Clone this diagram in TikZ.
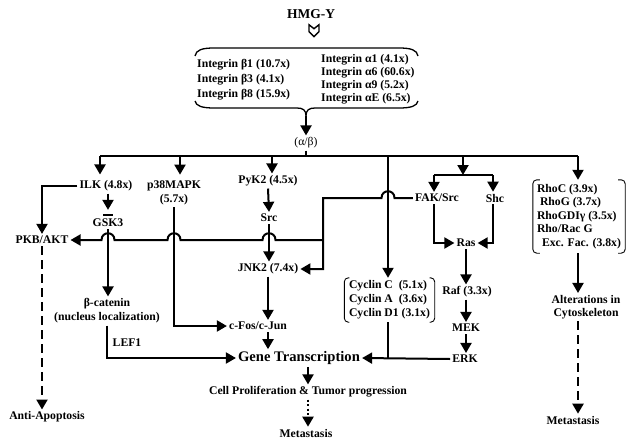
\documentclass[tikz,border=0pt]{standalone}
\usepackage{fontspec}
\setmainfont{Liberation Serif}
\usetikzlibrary{arrows.meta,calc}

\begin{document}
\begin{tikzpicture}[
  x=1pt, y=-1pt,
  every node/.style = {font=\bfseries\fontsize{11.7}{13}\selectfont, inner sep=2pt},
  ttl/.style    = {font=\bfseries\fontsize{13.5}{15}\selectfont},
  big/.style    = {font=\bfseries\fontsize{14.6}{16}\selectfont},
  two/.style    = {align=center, font=\bfseries\fontsize{11.7}{14}\selectfont},
  grp/.style    = {align=left, inner sep=0pt},
  ln/.style     = {line width=2pt},
  arr/.style    = {-{Triangle[length=10pt,width=11pt]}, line width=2pt},
  dsh/.style    = {arr, dash pattern=on 9pt off 5pt, line width=2.2pt},
  dts/.style    = {arr, dash pattern=on 2pt off 2.5pt, line width=2.2pt},
  brc/.style    = {line width=1.3pt},
  brk/.style    = {line width=0.9pt, rounded corners=4pt},
  chev/.style   = {line width=1.4pt, fill=white, line join=miter},
]
\useasboundingbox (0,0) rectangle (628,441);

% ── Receptor layer ───────────────────────────────────────────
\node[ttl] (hmg) at (311,14) {HMG-Y};
\draw[chev, shift={(hmg.south)}] (-2,4) -- (3,8) -- (8,4) -- (8,11) -- (3,16) -- (-2,11) -- cycle;

\node[grp, anchor=west, font=\bfseries\fontsize{11.7}{15}\selectfont] (intb) at (197,80)
  {Integrin β1 (10.7x)\\Integrin β3 (4.1x)\\Integrin β8 (15.9x)};
\node[grp, anchor=west, font=\bfseries\fontsize{11.7}{13}\selectfont] (inta) at (321,79.5)
  {Integrin α1 (4.1x)\\Integrin α6 (60.6x)\\Integrin α9 (5.2x)\\Integrin αE (6.5x)};

\draw[brc] (195,56) .. controls (196,50) and (202,48) .. (214,48) -- (399,48)
  .. controls (411,48) and (417,50) .. (418,56);
\draw[brc] (195,101) .. controls (196,106) and (202,108) .. (214,108) -- (297,108)
  .. controls (303,108) and (306,110) .. (306,116) coordinate (tip)
  .. controls (306,110) and (309,108) .. (315,108) -- (399,108)
  .. controls (411,108) and (417,106) .. (418,101);

\node[font=\fontsize{11.7}{13}\selectfont] (ab) at (306,143) {(α/β)};
\draw[arr] (tip) -- (ab.north);

% ── Distribution bus ─────────────────────────────────────────
\coordinate (b1) at (100,156);
\coordinate (b2) at (180,156);
\coordinate (b3) at (272,156);
\coordinate (b4) at (388,156);
\coordinate (b5) at (463,156);
\coordinate (b6) at (578,156);
\draw[ln] (b1) -- (b6);
\draw[ln] (ab.south) -- (ab.south |- b1);

% ── Left branch nodes ────────────────────────────────────────
\node (ilk)  at (106,186) {ILK (4.8x)};
\node[two] (p38) at (174,193) {p38MAPK\\(5.7x)};
\node (pyk)  at (268,181) {PyK2 (4.5x)};
\node (src)  at (269,218) {Src};
\node (gsk)  at (108,223) {GSK3};
\node (pkb)  at (42,240)  {PKB/AKT};
\node (jnk)  at (268,269) {JNK2 (7.4x)};
\node[two] (bcat) at (107,311) {β-catenin\\(nucleus localization)};
\node (lef)  at (127,343) {LEF1};
\node (fos)  at (258,326) {c-Fos/c-Jun};
\node[big] (gene) at (299,358) {Gene Transcription};
\node (cell) at (308,392) {Cell Proliferation \& Tumor progression};
\node (meta) at (306,433) {Metastasis};
\node (anti) at (47,417)  {Anti-Apoptosis};

% ── Right branch nodes ───────────────────────────────────────
\node (fak)  at (437,198) {FAK/Src};
\node (shc)  at (495,198) {Shc};
\node (ras)  at (466,243) {Ras};
\node (raf)  at (467,292) {Raf (3.3x)};
\node (mek)  at (466,328) {MEK};
\node (erk)  at (465,359) {ERK};
\node[grp, minimum width=90pt, minimum height=44pt,
      font=\bfseries\fontsize{11.7}{14}\selectfont] (cyc) at (389.5,300)
  {Cyclin C\enspace(5.1x)\\Cyclin A\enspace(3.6x)\\Cyclin D1 (3.1x)};
\node[grp, minimum width=92pt, minimum height=73pt,
      font=\bfseries\fontsize{11.7}{13.5}\selectfont] (rho) at (579,216.5)
  {RhoC (3.9x)\\\hspace*{3pt}RhoG (3.7x)\\RhoGDIγ (3.5x)\\Rho/Rac G\\\hspace*{5pt}Exc. Fac. (3.8x)};
\node[two, font=\bfseries\fontsize{11.7}{13}\selectfont] (alt) at (586,307) {Alterations in\\Cytoskeleton};
\node (metaR) at (573,420) {Metastasis};

% brackets round the two lists
\draw[brk] ([xshift=5pt]cyc.north west) -- (cyc.north west) -- (cyc.south west) -- ([xshift=5pt]cyc.south west);
\draw[brk] ([xshift=-5pt]cyc.north east) -- (cyc.north east) -- (cyc.south east) -- ([xshift=-5pt]cyc.south east);
\draw[brk] ([xshift=7pt]rho.north west) -- (rho.north west) -- (rho.south west) -- ([xshift=7pt]rho.south west);
\draw[brk] ([xshift=-7pt]rho.north east) -- (rho.north east) -- (rho.south east) -- ([xshift=-7pt]rho.south east);

% ── Bus arrows ───────────────────────────────────────────────
\draw[arr, shorten >=4pt] (b1) -- (b1 |- ilk.north);
\draw[arr, shorten >=4pt] (b2) -- (b2 |- p38.north);
\draw[arr] (b3) -- (b3 |- pyk.north);
\draw[arr] (b4) -- (b4 |- cyc.north);
\draw[arr] (b6) -- (b6 |- rho.north);
\coordinate (fb) at (434,175);
\coordinate (sb) at (493,175);
\draw[arr] (b5) -- (b5 |- fb);
\draw[ln] (fb) -- (sb);
\draw[arr] (fb) -- (fb |- fak.north);
\draw[arr] (sb) -- (sb |- shc.north);

% ── Left cascade ─────────────────────────────────────────────
\draw[arr] (ilk.west) -| (pkb.north);
\draw[arr] (ilk.south -| gsk.north) -- ([yshift=7pt]gsk.north);
\draw[ln] ([xshift=-5pt,yshift=2pt]gsk.north) -- ([xshift=5pt,yshift=2pt]gsk.north);
\draw[arr] (gsk.south) -- (gsk.south |- bcat.north);
\draw[arr] (pyk.south) -- (src.north);
\draw[arr] (src.south) -- (jnk.north -| src.south);
\draw[arr] (p38.south) |- (fos.west);
\draw[arr] (jnk.south) -- (jnk.south |- fos.north);
\draw[arr] (jnk.south |- fos.south) -- (jnk.south |- gene.north);
\draw[arr] (bcat.south) |- (gene.west);
\draw[dsh] (pkb.south) -- (pkb.south |- anti.north);

% ── FAK/Src feed, hopping over crossings ─────────────────────
\coordinate (fj) at (323,240);
\draw[arr] (fak.west)
  -- ($(b4 |- fak.west)+(6.5,0)$) .. controls +(0,-9) and +(0,-9) .. ($(b4 |- fak.west)+(-6.5,0)$)
  -- (fak.west -| fj) -- (fj |- jnk.east) -- (jnk.east);
\draw[arr] (fj)
  -- ($(src.south |- fj)+(6.5,0)$) .. controls +(0,-9) and +(0,-9) .. ($(src.south |- fj)+(-6.5,0)$)
  -- ($(p38.south |- fj)+(6.5,0)$) .. controls +(0,-9) and +(0,-9) .. ($(p38.south |- fj)+(-6.5,0)$)
  -- ($(gsk.south |- fj)+(6.5,0)$) .. controls +(0,-9) and +(0,-9) .. ($(gsk.south |- fj)+(-6.5,0)$)
  -- (pkb.east);

% ── Ras / MAPK cascade ───────────────────────────────────────
\draw[arr] (fak.south -| fb) |- (ras.west);
\draw[arr] (shc.south -| sb) |- (ras.east);
\draw[arr] (ras.south) -- (raf.north -| ras.south);
\draw[arr] (raf.south -| mek.north) -- (mek.north);
\draw[arr] (mek.south) -- (erk.north -| mek.south);
\draw[arr] (erk.west) -- (gene.east);
\draw[ln] (cyc.south -| b4) -- (b4 |- erk.west);

% ── Outcomes ─────────────────────────────────────────────────
\draw[arr] (gene.south -| cell.north) -- (cell.north);
\draw[dts] (cell.south) -- (cell.south |- meta.north);
\draw[arr] (rho.south -| b6) -- (b6 |- alt.north);
\draw[dsh] (alt.south -| b6) -- (b6 |- metaR.north);

\end{tikzpicture}
\end{document}
